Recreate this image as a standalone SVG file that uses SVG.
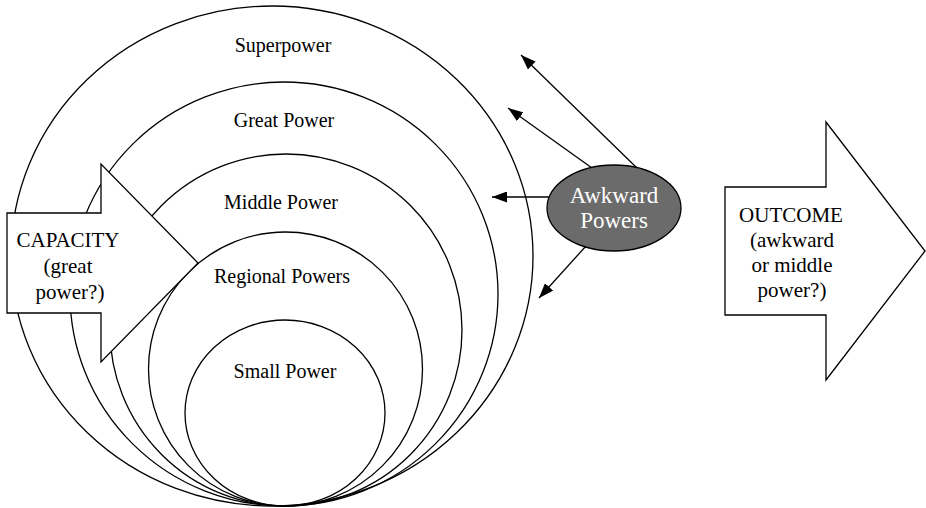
<svg xmlns="http://www.w3.org/2000/svg" width="926" height="508" viewBox="0 0 926 508">
<style>
.ring{fill:none;stroke:#000;stroke-width:1.3}
.shape{fill:#fff;stroke:#000;stroke-width:1.3}
.lbl{font-family:"Liberation Serif","Times New Roman",serif;font-size:20px;fill:#000;text-anchor:middle}
.big{font-family:"Liberation Serif","Times New Roman",serif;font-size:21px;fill:#000;text-anchor:middle}
.wt{font-family:"Liberation Serif","Times New Roman",serif;font-size:23px;fill:#fff;text-anchor:middle}
.conn{stroke:#000;stroke-width:1.3;fill:none;marker-end:url(#ah)}
</style>
<defs>
<marker id="ah" markerWidth="15" markerHeight="11" refX="15" refY="5.5" orient="auto" markerUnits="userSpaceOnUse">
<path d="M0,0 L15,5.5 L0,11 z" fill="#000"/>
</marker>
</defs>
<rect width="926" height="508" fill="#fff"/>
<g id="superpower">
<ellipse class="ring" cx="272" cy="256" rx="261" ry="250"/>
<text class="lbl" x="283" y="52">Superpower</text>
</g>
<g id="great-power">
<ellipse class="ring" cx="284" cy="294" rx="214" ry="212"/>
<text class="lbl" x="284" y="127">Great Power</text>
</g>
<g id="middle-power">
<ellipse class="ring" cx="286" cy="330" rx="176" ry="176"/>
<text class="lbl" x="281" y="209">Middle Power</text>
</g>
<g id="regional-powers">
<ellipse class="ring" cx="285.5" cy="369" rx="137" ry="137"/>
<text class="lbl" x="282" y="283">Regional Powers</text>
</g>
<g id="small-power">
<ellipse class="ring" cx="285" cy="413" rx="100" ry="93"/>
<text class="lbl" x="285" y="378">Small Power</text>
</g>
<g id="capacity">
<polygon class="shape" points="7,213 101,213 101,164 198,263 101,362 101,313 7,313"/>
<text class="big" x="68" y="247">CAPACITY</text>
<text class="big" x="68" y="273">(great</text>
<text class="big" x="70" y="299">power?)</text>
</g>
<g id="outcome">
<polygon class="shape" points="725,187 826,187 826,122 925,251 826,380 826,315 725,315"/>
<text class="big" x="791" y="222">OUTCOME</text>
<text class="big" x="792" y="247">(awkward</text>
<text class="big" x="792" y="272">or middle</text>
<text class="big" x="792" y="297">power?)</text>
</g>
<g id="connectors">
<line class="conn" x1="637" y1="168" x2="521" y2="55"/>
<line class="conn" x1="592" y1="168" x2="508" y2="108"/>
<line class="conn" x1="550" y1="197" x2="492" y2="197"/>
<line class="conn" x1="586" y1="246" x2="539" y2="298"/>
</g>
<g id="awkward-powers">
<ellipse cx="614" cy="208" rx="67" ry="43" fill="#6b6b6b" stroke="#000" stroke-width="1.3"/>
<text class="wt" x="614" y="203">Awkward</text>
<text class="wt" x="614" y="228">Powers</text>
</g>
</svg>
